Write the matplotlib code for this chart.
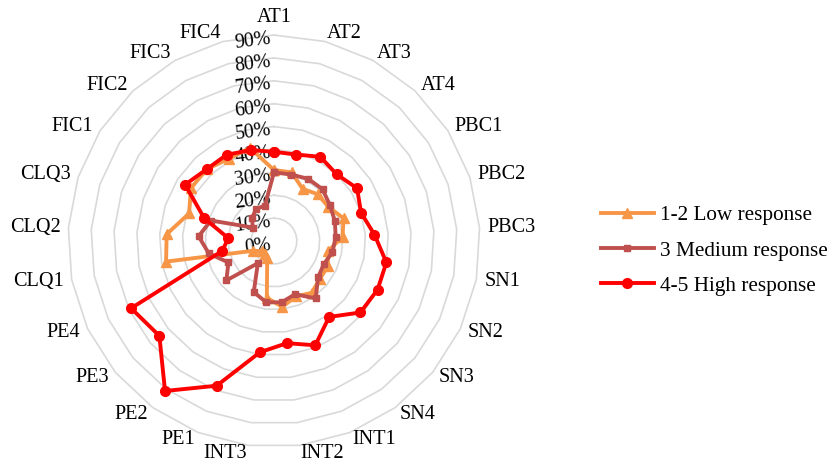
import numpy as np
import matplotlib
matplotlib.use('Agg')
import matplotlib.pyplot as plt

plt.rcParams['font.family'] = ['Liberation Serif', 'DejaVu Serif']

# survey items, clockwise from the top
items = ['AT1', 'AT2', 'AT3', 'AT4', 'PBC1', 'PBC2', 'PBC3',
         'SN1', 'SN2', 'SN3', 'SN4', 'INT1', 'INT2', 'INT3',
         'PE1', 'PE2', 'PE3', 'PE4', 'CLQ1', 'CLQ2', 'CLQ3',
         'FIC1', 'FIC2', 'FIC3', 'FIC4']

low = [0.31, 0.31, 0.26, 0.28, 0.28, 0.32, 0.30,
       0.24, 0.26, 0.26, 0.28, 0.26, 0.29, 0.25,
       0.08, 0.07, 0.07, 0.10, 0.48, 0.47, 0.39,
       0.43, 0.43, 0.41, 0.42]
medium = [0.30, 0.30, 0.31, 0.31, 0.29, 0.28, 0.27,
          0.26, 0.24, 0.25, 0.31, 0.25, 0.27, 0.27,
          0.24, 0.12, 0.27, 0.22, 0.29, 0.33, 0.29,
          0.11, 0.14, 0.16, 0.16]
high = [0.39, 0.39, 0.42, 0.40, 0.43, 0.40, 0.44,
        0.50, 0.50, 0.49, 0.41, 0.49, 0.45, 0.49,
        0.68, 0.81, 0.65, 0.69, 0.23, 0.20, 0.32,
        0.46, 0.43, 0.43, 0.41]

series_names = ['1-2 Low response', '3 Medium response', '4-5 High response']
levels = [0.0, 0.1, 0.2, 0.3, 0.4, 0.5, 0.6, 0.7, 0.8, 0.9]

n = len(items)
ang = np.arange(n) * 2 * np.pi / n
ang_c = np.append(ang, ang[0])

fig = plt.figure(figsize=(8.31, 4.66), dpi=100)
ax = fig.add_axes([0.0818, 0.0408, 0.4958, 0.884], projection='polar')
ax.set_theta_zero_location('N')
ax.set_theta_direction(-1)
ax.set_ylim(0, 0.9)
ax.grid(False)
ax.spines['polar'].set_visible(False)
ax.set_xticks([])
ax.set_yticks([])
ax.patch.set_visible(False)

# polygon rings
for lv in levels[1:]:
    ax.plot(ang_c, [lv] * (n + 1), color='#D9D9D9', lw=1.2, zorder=1, clip_on=False)

# value labels along the vertical axis
for lv in levels:
    ax.annotate('%d%%' % round(lv * 100), xy=(0, lv), xytext=(-2, -6),
                textcoords='offset pixels', ha='right', va='center',
                fontsize=14.3, rotation=7, zorder=2)

# item labels round the outside
pad = 8
for a, name in zip(ang, items):
    s, c = np.sin(a), np.cos(a)
    if abs(s) < 0.01:
        ha = 'center'
    elif s > 0:
        ha = 'left'
    else:
        ha = 'right'
    va = 'bottom' if c > 0.999 else 'center'
    ax.annotate(name, xy=(a, 0.9), xytext=(pad * s, pad * c),
                textcoords='offset pixels', ha=ha, va=va, fontsize=14.6,
                annotation_clip=False)

styles = [
    (low, '#F79646', '^', 6.5),
    (medium, '#C0504D', 's', 5),
    (high, '#FF0000', 'o', 7),
]
for (vals, col, mk, ms), name in zip(styles, series_names):
    v = np.append(vals, vals[0])
    ax.plot(ang_c, v, color=col, lw=2.8, marker=mk, markersize=ms,
            label=name, zorder=3, clip_on=False)

leg = fig.legend(loc='center left', bbox_to_anchor=(0.723, 0.462),
                 frameon=False, fontsize=15.3, handlelength=2.5,
                 handletextpad=0.3, labelspacing=0.72, borderpad=0,
                 borderaxespad=0)

fig.savefig('out.png', dpi=100)
